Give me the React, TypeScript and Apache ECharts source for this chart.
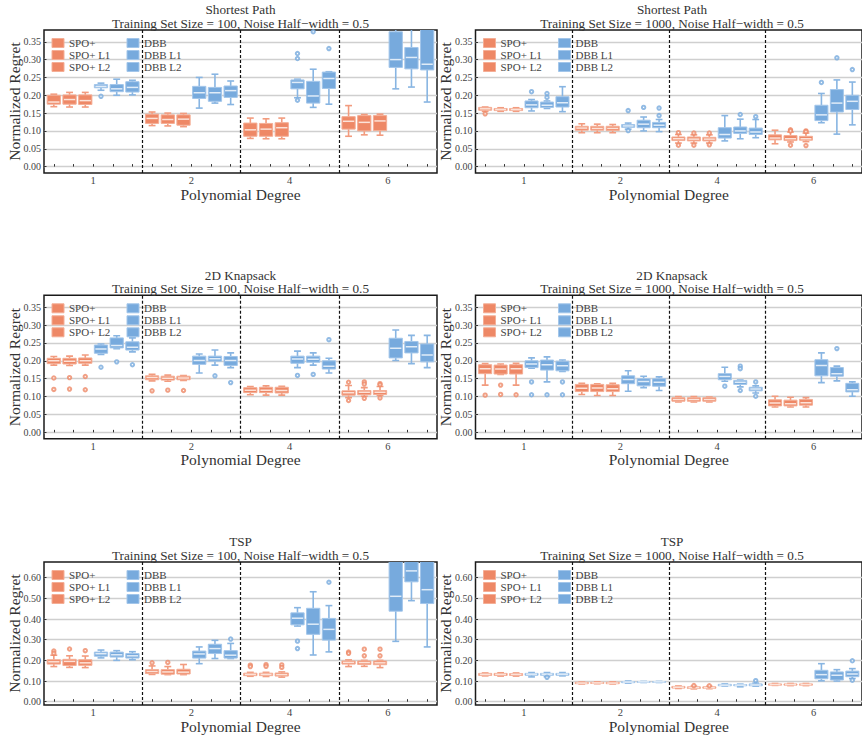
import React, { useEffect, useRef } from "react";
import * as echarts from "echarts";

// ---------------- data ----------------
const methods = ["SPO+", "SPO+ L1", "SPO+ L2", "DBB", "DBB L1", "DBB L2"];
const degrees = ["1", "2", "4", "6"];
const yTicksA = [0, 0.05, 0.1, 0.15, 0.2, 0.25, 0.3, 0.35];
const yTicksB = [0, 0.1, 0.2, 0.3, 0.4, 0.5, 0.6];

// box stats per method (rows) and degree (cols): [whiskerLow, Q1, median, Q3, whiskerHigh]
const spath100 = [
  [[0.168, 0.175, 0.181, 0.2, 0.203], [0.115, 0.121, 0.135, 0.147, 0.153], [0.079, 0.085, 0.103, 0.122, 0.136], [0.085, 0.105, 0.127, 0.14, 0.171]],
  [[0.167, 0.175, 0.188, 0.201, 0.208], [0.114, 0.121, 0.132, 0.145, 0.15], [0.078, 0.085, 0.105, 0.121, 0.134], [0.089, 0.1, 0.124, 0.143, 0.146]],
  [[0.167, 0.174, 0.185, 0.201, 0.208], [0.112, 0.116, 0.133, 0.145, 0.149], [0.078, 0.085, 0.109, 0.123, 0.136], [0.088, 0.101, 0.128, 0.143, 0.147]],
  [[0.214, 0.221, 0.225, 0.23, 0.234], [0.164, 0.191, 0.207, 0.225, 0.25], [0.193, 0.218, 0.236, 0.243, 0.245], [0.218, 0.278, 0.3, 0.378, 0.4]],
  [[0.2, 0.21, 0.218, 0.23, 0.245], [0.178, 0.183, 0.207, 0.222, 0.259], [0.166, 0.178, 0.198, 0.239, 0.273], [0.223, 0.274, 0.306, 0.334, 0.39]],
  [[0.201, 0.209, 0.222, 0.238, 0.242], [0.174, 0.194, 0.213, 0.226, 0.24], [0.175, 0.219, 0.247, 0.265, 0.266], [0.181, 0.271, 0.287, 0.4, 0.45]],
];
// outliers: [degreeIndex, methodIndex, value]
const spath100Out = [
  [0, 3, 0.197], [2, 3, 0.317], [2, 3, 0.303], [2, 3, 0.186], [2, 4, 0.378], [2, 5, 0.331],
];

const spath1000 = [
  [[0.155, 0.158, 0.162, 0.166, 0.167], [0.095, 0.102, 0.108, 0.113, 0.12], [0.066, 0.073, 0.078, 0.083, 0.09], [0.064, 0.075, 0.08, 0.089, 0.102]],
  [[0.155, 0.157, 0.16, 0.163, 0.165], [0.095, 0.102, 0.107, 0.113, 0.119], [0.066, 0.072, 0.077, 0.083, 0.089], [0.069, 0.073, 0.078, 0.087, 0.097]],
  [[0.155, 0.157, 0.16, 0.163, 0.165], [0.095, 0.101, 0.107, 0.113, 0.118], [0.066, 0.072, 0.077, 0.082, 0.089], [0.07, 0.074, 0.078, 0.085, 0.094]],
  [[0.156, 0.165, 0.173, 0.184, 0.188], [0.105, 0.11, 0.114, 0.118, 0.122], [0.072, 0.08, 0.09, 0.109, 0.143], [0.123, 0.129, 0.145, 0.172, 0.205]],
  [[0.163, 0.166, 0.172, 0.181, 0.184], [0.1, 0.109, 0.119, 0.13, 0.139], [0.078, 0.093, 0.1, 0.111, 0.133], [0.091, 0.153, 0.178, 0.216, 0.243]],
  [[0.154, 0.167, 0.179, 0.196, 0.224], [0.098, 0.109, 0.116, 0.124, 0.132], [0.081, 0.09, 0.097, 0.108, 0.132], [0.117, 0.16, 0.183, 0.2, 0.237]],
];
const spath1000Out = [
  [0, 0, 0.148], [0, 3, 0.21], [0, 4, 0.205], [0, 4, 0.194], [1, 3, 0.157], [1, 3, 0.101], [1, 4, 0.166],
  [1, 5, 0.164], [1, 5, 0.143], [2, 0, 0.095], [2, 0, 0.06], [2, 1, 0.094], [2, 1, 0.06], [2, 2, 0.094],
  [2, 2, 0.061], [2, 4, 0.146], [2, 5, 0.14], [3, 1, 0.103], [3, 1, 0.1], [3, 1, 0.06], [3, 2, 0.1],
  [3, 2, 0.098], [3, 2, 0.059], [3, 3, 0.236], [3, 4, 0.305], [3, 5, 0.272],
];

const knap100 = [
  [[0.188, 0.192, 0.2, 0.207, 0.212], [0.144, 0.147, 0.153, 0.158, 0.162], [0.105, 0.111, 0.118, 0.125, 0.128], [0.097, 0.104, 0.111, 0.116, 0.131]],
  [[0.187, 0.191, 0.199, 0.207, 0.213], [0.143, 0.146, 0.151, 0.157, 0.16], [0.104, 0.111, 0.118, 0.126, 0.13], [0.101, 0.105, 0.112, 0.117, 0.125]],
  [[0.188, 0.193, 0.2, 0.208, 0.216], [0.145, 0.147, 0.152, 0.157, 0.159], [0.104, 0.11, 0.117, 0.126, 0.129], [0.103, 0.106, 0.112, 0.117, 0.128]],
  [[0.218, 0.221, 0.233, 0.244, 0.247], [0.166, 0.19, 0.201, 0.213, 0.219], [0.181, 0.193, 0.205, 0.213, 0.227], [0.201, 0.208, 0.235, 0.263, 0.286]],
  [[0.234, 0.236, 0.243, 0.264, 0.27], [0.188, 0.199, 0.206, 0.213, 0.23], [0.188, 0.196, 0.204, 0.213, 0.222], [0.192, 0.222, 0.239, 0.254, 0.271]],
  [[0.225, 0.23, 0.238, 0.253, 0.264], [0.181, 0.187, 0.201, 0.212, 0.222], [0.166, 0.177, 0.185, 0.2, 0.207], [0.181, 0.197, 0.216, 0.247, 0.271]],
];
const knap100Out = [
  [0, 0, 0.152], [0, 0, 0.12], [0, 1, 0.153], [0, 1, 0.121], [0, 2, 0.156], [0, 2, 0.119], [0, 3, 0.182],
  [0, 4, 0.197], [0, 5, 0.189], [1, 0, 0.116], [1, 1, 0.118], [1, 2, 0.117], [1, 4, 0.158], [1, 5, 0.139],
  [2, 3, 0.159], [2, 4, 0.162], [2, 5, 0.259], [3, 0, 0.14], [3, 0, 0.089], [3, 1, 0.141], [3, 1, 0.135],
  [3, 1, 0.095], [3, 2, 0.136], [3, 2, 0.133], [3, 2, 0.096],
];

const knap1000 = [
  [[0.132, 0.164, 0.178, 0.189, 0.192], [0.106, 0.114, 0.123, 0.134, 0.137], [0.085, 0.087, 0.092, 0.097, 0.1], [0.071, 0.074, 0.082, 0.091, 0.101]],
  [[0.162, 0.163, 0.177, 0.188, 0.191], [0.103, 0.114, 0.124, 0.134, 0.136], [0.085, 0.087, 0.092, 0.097, 0.1], [0.071, 0.074, 0.08, 0.09, 0.098]],
  [[0.132, 0.163, 0.178, 0.189, 0.193], [0.103, 0.114, 0.122, 0.133, 0.137], [0.085, 0.087, 0.092, 0.097, 0.099], [0.071, 0.076, 0.083, 0.092, 0.097]],
  [[0.179, 0.181, 0.191, 0.2, 0.208], [0.115, 0.136, 0.148, 0.158, 0.172], [0.143, 0.147, 0.156, 0.164, 0.182], [0.139, 0.158, 0.187, 0.203, 0.222]],
  [[0.141, 0.174, 0.189, 0.202, 0.211], [0.125, 0.13, 0.142, 0.15, 0.157], [0.127, 0.134, 0.14, 0.145, 0.146], [0.144, 0.157, 0.164, 0.181, 0.185]],
  [[0.17, 0.172, 0.186, 0.199, 0.202], [0.117, 0.129, 0.14, 0.15, 0.155], [0.11, 0.116, 0.121, 0.126, 0.13], [0.101, 0.113, 0.119, 0.137, 0.141]],
];
const knap1000Out = [
  [0, 0, 0.104], [0, 1, 0.132], [0, 1, 0.106], [0, 2, 0.105], [0, 3, 0.141], [0, 3, 0.105], [0, 4, 0.105],
  [0, 5, 0.141], [0, 5, 0.105], [2, 3, 0.129], [2, 4, 0.185], [2, 4, 0.178], [2, 4, 0.117], [2, 5, 0.141],
  [2, 5, 0.101], [3, 4, 0.234],
];

const tsp100 = [
  [[0.17, 0.182, 0.193, 0.203, 0.225], [0.132, 0.136, 0.146, 0.155, 0.173], [0.123, 0.126, 0.132, 0.138, 0.142], [0.17, 0.182, 0.19, 0.197, 0.202]],
  [[0.166, 0.175, 0.195, 0.205, 0.222], [0.131, 0.133, 0.144, 0.155, 0.17], [0.122, 0.126, 0.132, 0.138, 0.142], [0.171, 0.18, 0.189, 0.197, 0.2]],
  [[0.165, 0.176, 0.188, 0.203, 0.221], [0.131, 0.134, 0.143, 0.157, 0.18], [0.119, 0.124, 0.131, 0.139, 0.144], [0.165, 0.179, 0.188, 0.197, 0.2]],
  [[0.212, 0.22, 0.232, 0.24, 0.25], [0.184, 0.211, 0.231, 0.245, 0.265], [0.366, 0.372, 0.404, 0.43, 0.455], [0.292, 0.438, 0.51, 0.7, 0.9]],
  [[0.2, 0.216, 0.227, 0.24, 0.247], [0.209, 0.233, 0.257, 0.278, 0.297], [0.226, 0.326, 0.375, 0.452, 0.532], [0.489, 0.58, 0.633, 0.75, 0.9]],
  [[0.203, 0.211, 0.222, 0.233, 0.242], [0.209, 0.211, 0.225, 0.247, 0.282], [0.241, 0.298, 0.35, 0.403, 0.465], [0.265, 0.475, 0.542, 0.72, 0.9]],
];
const tsp100Out = [
  [0, 0, 0.245], [0, 0, 0.234], [0, 1, 0.255], [0, 2, 0.247], [1, 0, 0.188], [1, 1, 0.19], [1, 5, 0.303],
  [2, 0, 0.177], [2, 0, 0.17], [2, 1, 0.179], [2, 1, 0.171], [2, 2, 0.178], [2, 2, 0.166], [2, 3, 0.293],
  [2, 3, 0.257], [2, 5, 0.578], [3, 0, 0.24], [3, 0, 0.234], [3, 1, 0.254], [3, 1, 0.222], [3, 2, 0.254],
  [3, 2, 0.222],
];

const tsp1000 = [
  [[0.125, 0.127, 0.132, 0.137, 0.139], [0.086, 0.087, 0.09, 0.094, 0.095], [0.064, 0.066, 0.07, 0.074, 0.076], [0.079, 0.08, 0.083, 0.086, 0.088]],
  [[0.124, 0.127, 0.132, 0.137, 0.14], [0.087, 0.088, 0.091, 0.094, 0.096], [0.062, 0.064, 0.068, 0.072, 0.075], [0.078, 0.08, 0.083, 0.086, 0.088]],
  [[0.124, 0.127, 0.132, 0.136, 0.139], [0.086, 0.087, 0.09, 0.094, 0.096], [0.063, 0.065, 0.068, 0.072, 0.074], [0.078, 0.08, 0.083, 0.086, 0.088]],
  [[0.12, 0.128, 0.133, 0.137, 0.141], [0.09, 0.092, 0.095, 0.097, 0.1], [0.076, 0.077, 0.08, 0.084, 0.086], [0.101, 0.111, 0.131, 0.152, 0.184]],
  [[0.121, 0.128, 0.133, 0.137, 0.141], [0.093, 0.094, 0.096, 0.097, 0.098], [0.072, 0.077, 0.08, 0.083, 0.085], [0.1, 0.105, 0.128, 0.144, 0.155]],
  [[0.125, 0.128, 0.133, 0.137, 0.141], [0.093, 0.094, 0.096, 0.097, 0.098], [0.075, 0.077, 0.081, 0.086, 0.09], [0.112, 0.121, 0.134, 0.148, 0.16]],
];
const tsp1000Out = [
  [0, 4, 0.118], [2, 1, 0.078], [2, 2, 0.077], [2, 5, 0.102], [3, 5, 0.198], [3, 5, 0.104],
];

const problems = ["Shortest Path", "2D Knapsack", "TSP"];
const sizes = [100, 1000];
const panelStats = [spath100, spath1000, knap100, knap1000, tsp100, tsp1000];
const panelOut = [spath100Out, spath1000Out, knap100Out, knap1000Out, tsp100Out, tsp1000Out];

// ---------------- layout / style ----------------
const FONT = "Liberation Serif";
const COL_LEFT = [44, 475.5];
const PLOT_W = 393;
const ROW_TOP = [30, 295.3, 562];
const ROW_H = [143, 143.5, 143];
const ROW_RANGE = [[-0.018, 0.383], [-0.018, 0.383], [-0.016, 0.676]];
const ROW_TICKS = [yTicksA, yTicksA, yTicksB];
const SLOT = 0.16;
const BOX = 0.135;
const CAP = 0.07;

const FILL = ["#EE8866", "#77AADD"];
const EDGE = ["#F4AE96", "#A3C6EA"];
const MED = ["#FCE2D8", "#E0ECF8"];
const WHISK = ["#F29B7E", "#88B5E2"];

function xPos(g: number, m: number) {
  return g + 0.5 + (m - 2.5) * SLOT;
}

function makeRender(m: number) {
  const c = m >= 3 ? 1 : 0;
  return (_params: any, api: any) => {
    const g = api.value(0);
    const xc = xPos(g, m);
    const lo = api.value(1), q1 = api.value(2), med = api.value(3), q3 = api.value(4), hi = api.value(5);
    const pTL = api.coord([xc - BOX / 2, q3]);
    const pBR = api.coord([xc + BOX / 2, q1]);
    const pMed = api.coord([xc, med]);
    const pLo = api.coord([xc, lo]);
    const pHi = api.coord([xc, hi]);
    const cL = api.coord([xc - CAP / 2, lo])[0];
    const cR = api.coord([xc + CAP / 2, lo])[0];
    const ws = { stroke: WHISK[c], lineWidth: 1.6 };
    return {
      type: "group",
      children: [
        { type: "line", shape: { x1: pMed[0], y1: pTL[1], x2: pMed[0], y2: pHi[1] }, style: ws },
        { type: "line", shape: { x1: pMed[0], y1: pBR[1], x2: pMed[0], y2: pLo[1] }, style: ws },
        { type: "line", shape: { x1: cL, y1: pHi[1], x2: cR, y2: pHi[1] }, style: ws },
        { type: "line", shape: { x1: cL, y1: pLo[1], x2: cR, y2: pLo[1] }, style: ws },
        {
          type: "rect",
          shape: { x: pTL[0], y: pTL[1], width: pBR[0] - pTL[0], height: pBR[1] - pTL[1] },
          style: { fill: FILL[c], stroke: EDGE[c], lineWidth: 1 },
        },
        { type: "line", shape: { x1: pTL[0] + 1, y1: pMed[1], x2: pBR[0] - 1, y2: pMed[1] }, style: { stroke: MED[c], lineWidth: 1.5 } },
      ],
    };
  };
}

function buildOption() {
  const grid: any[] = [];
  const xAxis: any[] = [];
  const yAxis: any[] = [];
  const series: any[] = [];
  const title: any[] = [];
  const legend: any[] = [];

  for (let p = 0; p < 6; p++) {
    const row = Math.floor(p / 2);
    const col = p % 2;
    const left = COL_LEFT[col];
    const top = ROW_TOP[row];
    const h = ROW_H[row];
    const [ymin, ymax] = ROW_RANGE[row];
    const ticks = ROW_TICKS[row];

    grid.push({ left, top, width: PLOT_W, height: h, show: true, borderColor: "#1a1a1a", borderWidth: 1.5, backgroundColor: "transparent" });

    const minorTicks: number[] = [];
    for (let g = 0; g < 4; g++) for (let k = -2; k <= 2; k++) minorTicks.push(g + 0.5 + k * 0.2);

    xAxis.push({
      type: "value",
      gridIndex: p,
      min: 0,
      max: 4,
      name: "Polynomial Degree",
      nameLocation: "middle",
      nameGap: 13,
      nameMoveOverlap: false,
      nameTextStyle: { fontFamily: FONT, fontSize: 15.5, color: "#333" },
      axisLine: { show: false },
      axisTick: { show: true, inside: true, length: 2.5, customValues: minorTicks, lineStyle: { color: "#333", width: 1 } },
      axisLabel: {
        customValues: [0.5, 1.5, 2.5, 3.5],
        formatter: (v: number) => degrees[Math.floor(v)],
        fontFamily: FONT,
        fontSize: 10.5,
        color: "#444",
        margin: 2,
      },
      splitLine: { show: false },
    });

    yAxis.push({
      type: "value",
      gridIndex: p,
      min: ymin,
      max: ymax,
      splitNumber: row === 2 ? 7 : 8,
      name: "Normalized Regret",
      nameLocation: "middle",
      nameGap: 22,
      nameMoveOverlap: false,
      nameTextStyle: { fontFamily: FONT, fontSize: 15.5, color: "#333" },
      axisLine: { show: false },
      axisTick: { show: true, inside: true, length: 2.5, customValues: ticks, lineStyle: { color: "#333", width: 1 } },
      axisLabel: {
        customValues: ticks,
        formatter: (v: number) => v.toFixed(2),
        fontFamily: FONT,
        fontSize: 10,
        color: "#444",
        margin: 3,
      },
      splitLine: { show: true, lineStyle: { color: "#cfcfcf", width: 1.3 } },
    });

    title.push({
      text: problems[row] + "\nTraining Set Size = " + sizes[col] + ", Noise Half\u2212width = 0.5",
      left: left + PLOT_W / 2,
      top: top - 27,
      textAlign: "center",
      padding: 0,
      textStyle: { fontFamily: FONT, fontSize: 13.2, fontWeight: "normal", color: "#333", lineHeight: 13.5 },
    });

    const legendCommon = {
      orient: "vertical",
      top: top + 7.5,
      itemWidth: 12,
      itemHeight: 9,
      itemGap: 1,
      padding: 0,
      icon: "rect",
      selectedMode: false,
      textStyle: { fontFamily: FONT, fontSize: 11, color: "#444", lineHeight: 9.5 },
    };
    legend.push({
      ...legendCommon,
      left: left + 7.5,
      data: methods.slice(0, 3).map((n) => ({ name: n, itemStyle: { color: FILL[0], borderColor: EDGE[0], borderWidth: 1 } })),
    });
    legend.push({
      ...legendCommon,
      left: left + 82.5,
      data: methods.slice(3).map((n) => ({ name: n, itemStyle: { color: FILL[1], borderColor: EDGE[1], borderWidth: 1 } })),
    });

    const stats = panelStats[p];
    const outs = panelOut[p];
    for (let m = 0; m < 6; m++) {
      const c = m >= 3 ? 1 : 0;
      const s: any = {
        type: "custom",
        name: methods[m],
        xAxisIndex: p,
        yAxisIndex: p,
        clip: true,
        silent: true,
        itemStyle: { color: FILL[c] },
        encode: { x: 0, y: [1, 2, 3, 4, 5] },
        data: stats[m].map((b, g) => [g, ...b]),
        renderItem: makeRender(m),
      };
      if (m === 0) {
        s.markLine = {
          silent: true,
          symbol: ["none", "none"],
          label: { show: false },
          lineStyle: { color: "#111", type: [3, 2], width: 1.2 },
          data: [{ xAxis: 1 }, { xAxis: 2 }, { xAxis: 3 }],
        };
      }
      series.push(s);

      const od = outs.filter((o) => o[1] === m).map((o) => [xPos(o[0], m), o[2]]);
      if (od.length) {
        series.push({
          type: "scatter",
          name: methods[m] + " outliers",
          xAxisIndex: p,
          yAxisIndex: p,
          silent: true,
          symbol: "emptyCircle",
          symbolSize: 3.4,
          itemStyle: { color: FILL[c], borderWidth: 1 },
          data: od,
        });
      }
    }
  }

  return { animation: false, backgroundColor: "#fff", grid, xAxis, yAxis, title, legend, series };
}

export default function App() {
  const ref = useRef<HTMLDivElement>(null);
  useEffect(() => {
    if (!ref.current) return;
    const chart = echarts.init(ref.current, undefined, { renderer: "svg", width: 862, height: 740 });
    chart.setOption(buildOption() as any);
    return () => chart.dispose();
  }, []);
  return (
    <div style={{ position: "absolute", left: 0, top: 0, width: 862, height: 740, background: "#fff" }}>
      <div ref={ref} style={{ width: 862, height: 740, overflow: "hidden" }} />
    </div>
  );
}
